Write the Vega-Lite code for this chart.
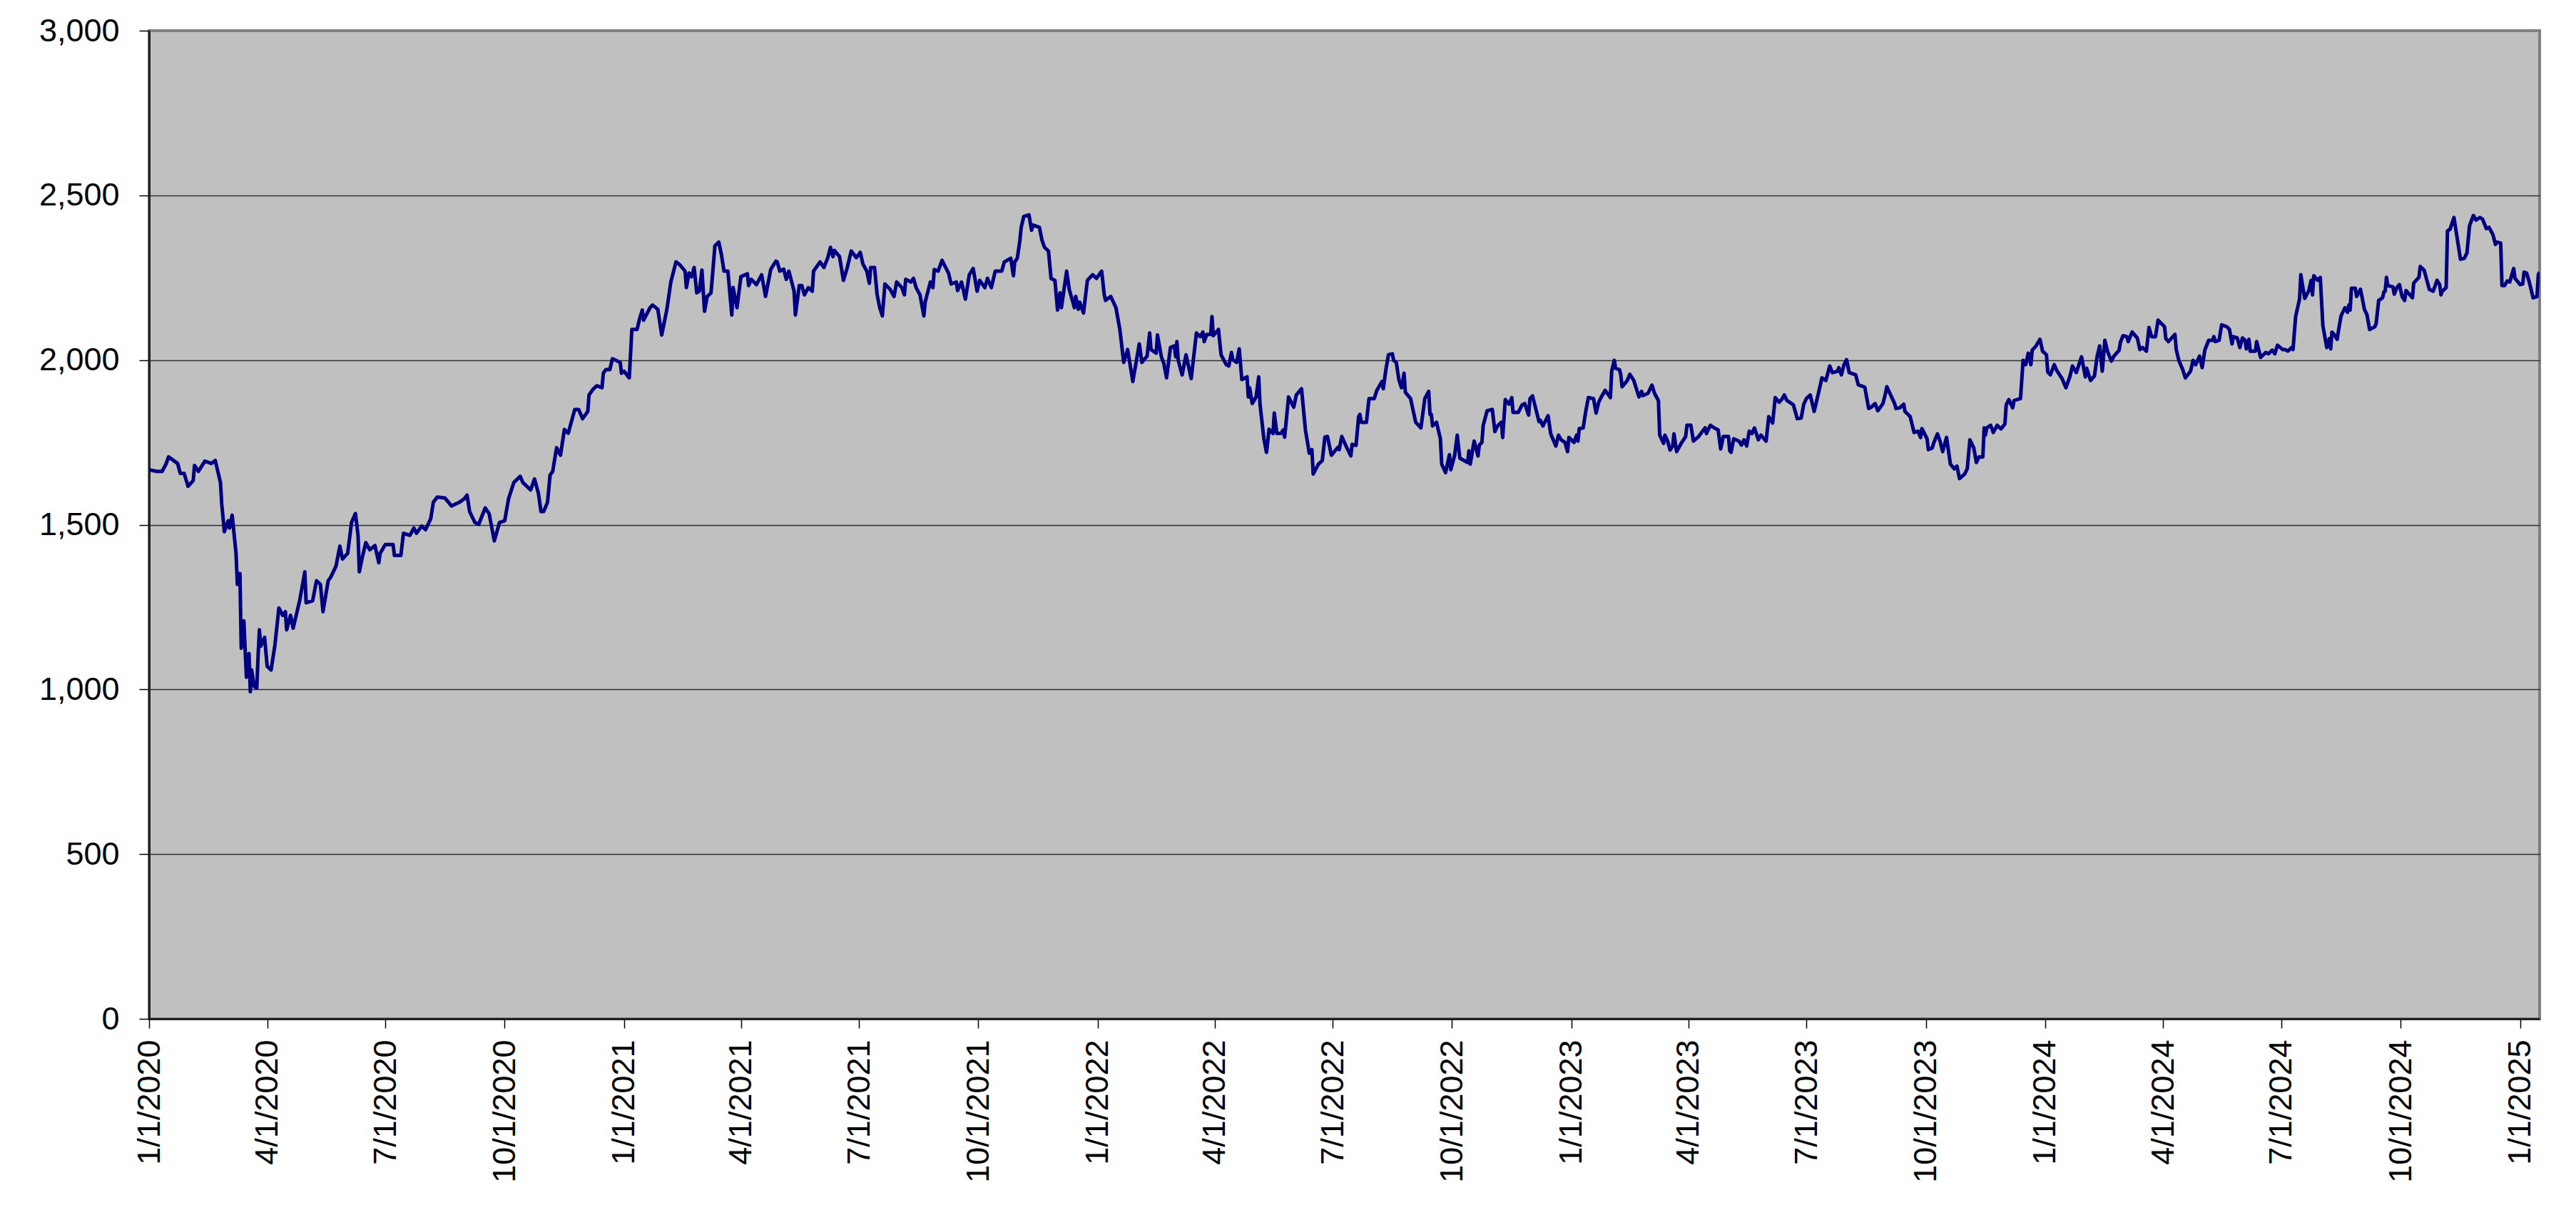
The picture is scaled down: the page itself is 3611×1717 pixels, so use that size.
{
  "$schema": "https://vega.github.io/schema/vega-lite/v6.json",
  "width": 3351,
  "height": 1385,
  "autosize": {"type": "none"},
  "padding": {"left": 209, "top": 43, "right": 51, "bottom": 289},
  "background": "white",
  "config": {
    "view": {"fill": "#C0C0C0", "stroke": "#808080", "strokeWidth": 4},
    "font": "Liberation Sans"
  },
  "data": {
    "values": [
      {"d":"2020-01-01","v":1667},{"d":"2020-01-07","v":1662},{"d":"2020-01-11","v":1662},{"d":"2020-01-14","v":1684},{"d":"2020-01-16","v":1706},{"d":"2020-01-23","v":1686},{"d":"2020-01-25","v":1656},{"d":"2020-01-28","v":1656},{"d":"2020-01-31","v":1617},{"d":"2020-02-04","v":1634},{"d":"2020-02-05","v":1680},{"d":"2020-02-08","v":1662},{"d":"2020-02-13","v":1693},{"d":"2020-02-18","v":1686},{"d":"2020-02-21","v":1695},{"d":"2020-02-25","v":1628},{"d":"2020-02-26","v":1562},{"d":"2020-02-28","v":1479},{"d":"2020-03-02","v":1512},{"d":"2020-03-03","v":1490},{"d":"2020-03-05","v":1529},{"d":"2020-03-08","v":1413},{"d":"2020-03-09","v":1319},{"d":"2020-03-11","v":1352},{"d":"2020-03-12","v":1125},{"d":"2020-03-14","v":1208},{"d":"2020-03-16","v":1037},{"d":"2020-03-18","v":1109},{"d":"2020-03-19","v":993},{"d":"2020-03-20","v":1059},{"d":"2020-03-22","v":1009},{"d":"2020-03-24","v":1004},{"d":"2020-03-25","v":1103},{"d":"2020-03-26","v":1181},{"d":"2020-03-27","v":1131},{"d":"2020-03-30","v":1158},{"d":"2020-04-01","v":1070},{"d":"2020-04-04","v":1059},{"d":"2020-04-07","v":1136},{"d":"2020-04-10","v":1247},{"d":"2020-04-13","v":1225},{"d":"2020-04-15","v":1236},{"d":"2020-04-16","v":1181},{"d":"2020-04-19","v":1225},{"d":"2020-04-21","v":1186},{"d":"2020-04-26","v":1269},{"d":"2020-04-30","v":1357},{"d":"2020-05-01","v":1263},{"d":"2020-05-06","v":1269},{"d":"2020-05-09","v":1330},{"d":"2020-05-12","v":1319},{"d":"2020-05-14","v":1236},{"d":"2020-05-18","v":1330},{"d":"2020-05-20","v":1341},{"d":"2020-05-24","v":1374},{"d":"2020-05-27","v":1435},{"d":"2020-05-29","v":1396},{"d":"2020-06-02","v":1413},{"d":"2020-06-05","v":1507},{"d":"2020-06-08","v":1534},{"d":"2020-06-10","v":1468},{"d":"2020-06-11","v":1357},{"d":"2020-06-13","v":1396},{"d":"2020-06-16","v":1446},{"d":"2020-06-19","v":1424},{"d":"2020-06-23","v":1437},{"d":"2020-06-26","v":1385},{"d":"2020-06-27","v":1413},{"d":"2020-07-01","v":1440},{"d":"2020-07-07","v":1440},{"d":"2020-07-08","v":1407},{"d":"2020-07-13","v":1407},{"d":"2020-07-15","v":1474},{"d":"2020-07-20","v":1468},{"d":"2020-07-23","v":1490},{"d":"2020-07-25","v":1474},{"d":"2020-07-29","v":1496},{"d":"2020-08-01","v":1485},{"d":"2020-08-05","v":1518},{"d":"2020-08-07","v":1568},{"d":"2020-08-10","v":1584},{"d":"2020-08-16","v":1581},{"d":"2020-08-21","v":1557},{"d":"2020-08-27","v":1568},{"d":"2020-08-31","v":1579},{"d":"2020-09-02","v":1590},{"d":"2020-09-04","v":1540},{"d":"2020-09-08","v":1507},{"d":"2020-09-11","v":1501},{"d":"2020-09-16","v":1551},{"d":"2020-09-19","v":1534},{"d":"2020-09-23","v":1451},
      {"d":"2020-09-27","v":1507},{"d":"2020-10-01","v":1512},{"d":"2020-10-04","v":1579},{"d":"2020-10-08","v":1628},{"d":"2020-10-13","v":1647},{"d":"2020-10-15","v":1628},{"d":"2020-10-21","v":1606},{"d":"2020-10-24","v":1639},{"d":"2020-10-27","v":1595},{"d":"2020-10-29","v":1540},{"d":"2020-10-31","v":1540},{"d":"2020-11-03","v":1568},{"d":"2020-11-05","v":1651},{"d":"2020-11-07","v":1662},{"d":"2020-11-10","v":1734},{"d":"2020-11-13","v":1711},{"d":"2020-11-16","v":1789},{"d":"2020-11-19","v":1778},{"d":"2020-11-24","v":1850},{"d":"2020-11-27","v":1850},{"d":"2020-11-30","v":1822},{"d":"2020-12-04","v":1844},{"d":"2020-12-05","v":1894},{"d":"2020-12-08","v":1911},{"d":"2020-12-11","v":1922},{"d":"2020-12-15","v":1916},{"d":"2020-12-16","v":1960},{"d":"2020-12-18","v":1971},{"d":"2020-12-21","v":1971},{"d":"2020-12-23","v":2004},{"d":"2020-12-29","v":1993},{"d":"2020-12-30","v":1960},{"d":"2021-01-01","v":1966},{"d":"2021-01-05","v":1946},{"d":"2021-01-07","v":2093},{"d":"2021-01-11","v":2093},{"d":"2021-01-13","v":2126},{"d":"2021-01-15","v":2152},{"d":"2021-01-16","v":2121},{"d":"2021-01-21","v":2159},{"d":"2021-01-23","v":2167},{"d":"2021-01-27","v":2154},{"d":"2021-01-30","v":2076},{"d":"2021-02-03","v":2154},{"d":"2021-02-06","v":2237},{"d":"2021-02-10","v":2298},{"d":"2021-02-13","v":2289},{"d":"2021-02-17","v":2270},{"d":"2021-02-18","v":2220},{"d":"2021-02-20","v":2264},{"d":"2021-02-22","v":2253},{"d":"2021-02-24","v":2281},{"d":"2021-02-26","v":2204},{"d":"2021-02-28","v":2209},{"d":"2021-03-02","v":2273},{"d":"2021-03-04","v":2148},{"d":"2021-03-06","v":2193},{"d":"2021-03-09","v":2204},{"d":"2021-03-12","v":2347},{"d":"2021-03-15","v":2358},{"d":"2021-03-17","v":2320},{"d":"2021-03-19","v":2270},{"d":"2021-03-22","v":2270},{"d":"2021-03-25","v":2137},{"d":"2021-03-26","v":2220},{"d":"2021-03-29","v":2159},{"d":"2021-04-01","v":2253},{"d":"2021-04-06","v":2262},{"d":"2021-04-07","v":2226},{"d":"2021-04-09","v":2245},{"d":"2021-04-13","v":2229},{"d":"2021-04-17","v":2259},{"d":"2021-04-20","v":2193},{"d":"2021-04-24","v":2275},{"d":"2021-04-28","v":2300},{"d":"2021-04-29","v":2298},{"d":"2021-05-01","v":2270},{"d":"2021-05-04","v":2276},{"d":"2021-05-06","v":2245},{"d":"2021-05-08","v":2270},{"d":"2021-05-12","v":2209},{"d":"2021-05-13","v":2137},{"d":"2021-05-16","v":2226},{"d":"2021-05-18","v":2226},{"d":"2021-05-20","v":2198},{"d":"2021-05-23","v":2220},{"d":"2021-05-26","v":2209},{"d":"2021-05-27","v":2270},{"d":"2021-06-01","v":2298},{"d":"2021-06-04","v":2281},{"d":"2021-06-07","v":2311},{"d":"2021-06-09","v":2342},{"d":"2021-06-11","v":2314},
      {"d":"2021-06-12","v":2333},{"d":"2021-06-16","v":2314},{"d":"2021-06-19","v":2242},{"d":"2021-06-22","v":2281},{"d":"2021-06-25","v":2331},{"d":"2021-06-29","v":2311},{"d":"2021-07-02","v":2327},{"d":"2021-07-04","v":2292},{"d":"2021-07-07","v":2270},{"d":"2021-07-09","v":2233},{"d":"2021-07-10","v":2281},{"d":"2021-07-13","v":2281},{"d":"2021-07-15","v":2198},{"d":"2021-07-17","v":2159},{"d":"2021-07-19","v":2134},{"d":"2021-07-21","v":2231},{"d":"2021-07-25","v":2215},{"d":"2021-07-28","v":2193},{"d":"2021-07-30","v":2237},{"d":"2021-08-03","v":2220},{"d":"2021-08-05","v":2198},{"d":"2021-08-06","v":2245},{"d":"2021-08-10","v":2237},{"d":"2021-08-12","v":2248},{"d":"2021-08-14","v":2220},{"d":"2021-08-17","v":2198},{"d":"2021-08-20","v":2134},{"d":"2021-08-21","v":2176},{"d":"2021-08-25","v":2237},{"d":"2021-08-27","v":2220},{"d":"2021-08-28","v":2275},{"d":"2021-08-31","v":2270},{"d":"2021-09-03","v":2303},{"d":"2021-09-05","v":2287},{"d":"2021-09-08","v":2264},{"d":"2021-09-10","v":2231},{"d":"2021-09-14","v":2237},{"d":"2021-09-15","v":2211},{"d":"2021-09-18","v":2237},{"d":"2021-09-21","v":2185},{"d":"2021-09-24","v":2259},{"d":"2021-09-27","v":2278},{"d":"2021-09-30","v":2209},{"d":"2021-10-02","v":2242},{"d":"2021-10-06","v":2220},{"d":"2021-10-08","v":2248},{"d":"2021-10-11","v":2220},{"d":"2021-10-14","v":2270},{"d":"2021-10-19","v":2270},{"d":"2021-10-21","v":2298},{"d":"2021-10-26","v":2309},{"d":"2021-10-28","v":2256},{"d":"2021-10-29","v":2298},{"d":"2021-10-31","v":2309},{"d":"2021-11-02","v":2364},{"d":"2021-11-03","v":2403},{"d":"2021-11-05","v":2436},{"d":"2021-11-09","v":2441},{"d":"2021-11-11","v":2394},{"d":"2021-11-12","v":2410},{"d":"2021-11-17","v":2403},{"d":"2021-11-19","v":2364},{"d":"2021-11-21","v":2342},{"d":"2021-11-24","v":2331},{"d":"2021-11-26","v":2248},{"d":"2021-11-29","v":2242},{"d":"2021-12-01","v":2152},{"d":"2021-12-03","v":2204},{"d":"2021-12-04","v":2159},{"d":"2021-12-08","v":2270},{"d":"2021-12-10","v":2215},{"d":"2021-12-14","v":2159},{"d":"2021-12-15","v":2193},{"d":"2021-12-17","v":2154},{"d":"2021-12-18","v":2176},{"d":"2021-12-21","v":2143},{"d":"2021-12-24","v":2242},{"d":"2021-12-28","v":2259},{"d":"2021-12-31","v":2248},{"d":"2022-01-04","v":2270},{"d":"2022-01-06","v":2198},{"d":"2022-01-07","v":2181},{"d":"2022-01-11","v":2193},{"d":"2022-01-15","v":2159},{"d":"2022-01-18","v":2093},{"d":"2022-01-21","v":1993},{"d":"2022-01-24","v":2032},{"d":"2022-01-28","v":1935},{"d":"2022-02-02","v":2049},{"d":"2022-02-04","v":1993},{"d":"2022-02-08","v":2012},{"d":"2022-02-10","v":2082},{"d":"2022-02-11","v":2032},{"d":"2022-02-15","v":2021},{"d":"2022-02-16","v":2076},{"d":"2022-02-19","v":2010},{"d":"2022-02-21","v":1988},{"d":"2022-02-23","v":1946},{"d":"2022-02-26","v":2038},{"d":"2022-03-01","v":2043},{"d":"2022-03-02","v":2010},{"d":"2022-03-03","v":2056},
      {"d":"2022-03-04","v":1999},{"d":"2022-03-07","v":1955},{"d":"2022-03-10","v":2016},{"d":"2022-03-14","v":1944},{"d":"2022-03-18","v":2082},{"d":"2022-03-21","v":2071},{"d":"2022-03-23","v":2085},{"d":"2022-03-24","v":2056},{"d":"2022-03-26","v":2078},{"d":"2022-03-29","v":2078},{"d":"2022-03-30","v":2132},{"d":"2022-03-31","v":2074},{"d":"2022-04-04","v":2093},{"d":"2022-04-06","v":2016},{"d":"2022-04-10","v":1986},{"d":"2022-04-12","v":1982},{"d":"2022-04-14","v":2023},{"d":"2022-04-15","v":2001},{"d":"2022-04-18","v":1993},{"d":"2022-04-20","v":2034},{"d":"2022-04-22","v":1941},{"d":"2022-04-26","v":1949},{"d":"2022-04-27","v":1888},{"d":"2022-04-28","v":1916},{"d":"2022-04-30","v":1868},{"d":"2022-05-03","v":1888},{"d":"2022-05-05","v":1949},{"d":"2022-05-06","v":1866},{"d":"2022-05-09","v":1761},{"d":"2022-05-11","v":1720},{"d":"2022-05-13","v":1790},{"d":"2022-05-16","v":1777},{"d":"2022-05-17","v":1839},{"d":"2022-05-19","v":1777},{"d":"2022-05-22","v":1777},{"d":"2022-05-24","v":1788},{"d":"2022-05-25","v":1766},{"d":"2022-05-28","v":1888},{"d":"2022-06-01","v":1857},{"d":"2022-06-03","v":1894},{"d":"2022-06-07","v":1913},{"d":"2022-06-10","v":1788},{"d":"2022-06-13","v":1717},{"d":"2022-06-15","v":1728},{"d":"2022-06-16","v":1654},{"d":"2022-06-20","v":1684},{"d":"2022-06-23","v":1695},{"d":"2022-06-25","v":1766},{"d":"2022-06-27","v":1768},{"d":"2022-06-30","v":1711},{"d":"2022-07-05","v":1735},{"d":"2022-07-06","v":1728},{"d":"2022-07-08","v":1768},{"d":"2022-07-12","v":1733},{"d":"2022-07-15","v":1709},{"d":"2022-07-16","v":1744},{"d":"2022-07-19","v":1741},{"d":"2022-07-21","v":1828},{"d":"2022-07-22","v":1835},{"d":"2022-07-23","v":1811},{"d":"2022-07-27","v":1811},{"d":"2022-07-29","v":1883},{"d":"2022-08-02","v":1883},{"d":"2022-08-04","v":1908},{"d":"2022-08-08","v":1935},{"d":"2022-08-09","v":1913},{"d":"2022-08-11","v":1971},{"d":"2022-08-13","v":2016},{"d":"2022-08-16","v":2019},{"d":"2022-08-17","v":1999},{"d":"2022-08-19","v":1993},{"d":"2022-08-21","v":1941},{"d":"2022-08-23","v":1916},{"d":"2022-08-25","v":1960},{"d":"2022-08-26","v":1902},{"d":"2022-08-30","v":1883},{"d":"2022-09-03","v":1811},{"d":"2022-09-07","v":1794},{"d":"2022-09-10","v":1883},{"d":"2022-09-13","v":1905},{"d":"2022-09-14","v":1835},{"d":"2022-09-15","v":1835},{"d":"2022-09-16","v":1800},{"d":"2022-09-19","v":1811},{"d":"2022-09-22","v":1761},{"d":"2022-09-23","v":1684},{"d":"2022-09-26","v":1658},{"d":"2022-09-29","v":1713},{"d":"2022-09-30","v":1667},{"d":"2022-10-03","v":1711},{"d":"2022-10-05","v":1772},{"d":"2022-10-07","v":1702},{"d":"2022-10-13","v":1689},{"d":"2022-10-14","v":1724},{"d":"2022-10-15","v":1684},{"d":"2022-10-18","v":1754},{"d":"2022-10-21","v":1709},{"d":"2022-10-22","v":1742},{"d":"2022-10-24","v":1750},{"d":"2022-10-25","v":1802},{"d":"2022-10-28","v":1846},{"d":"2022-11-01","v":1850},{"d":"2022-11-03","v":1783},{"d":"2022-11-05","v":1800},{"d":"2022-11-08","v":1811},{"d":"2022-11-09","v":1765},{"d":"2022-11-11","v":1880},{"d":"2022-11-14","v":1866},{"d":"2022-11-16","v":1886},{"d":"2022-11-17","v":1841},{"d":"2022-11-21","v":1841},
      {"d":"2022-11-24","v":1864},{"d":"2022-11-26","v":1868},{"d":"2022-11-29","v":1833},{"d":"2022-11-30","v":1883},{"d":"2022-12-02","v":1891},{"d":"2022-12-07","v":1813},{"d":"2022-12-08","v":1817},{"d":"2022-12-10","v":1800},{"d":"2022-12-14","v":1831},{"d":"2022-12-16","v":1776},{"d":"2022-12-20","v":1739},{"d":"2022-12-22","v":1772},{"d":"2022-12-24","v":1758},{"d":"2022-12-27","v":1750},{"d":"2022-12-29","v":1722},{"d":"2022-12-30","v":1765},{"d":"2023-01-03","v":1750},{"d":"2023-01-05","v":1772},{"d":"2023-01-06","v":1754},{"d":"2023-01-07","v":1792},{"d":"2023-01-10","v":1794},{"d":"2023-01-12","v":1844},{"d":"2023-01-14","v":1886},{"d":"2023-01-18","v":1883},{"d":"2023-01-20","v":1839},{"d":"2023-01-22","v":1872},{"d":"2023-01-24","v":1888},{"d":"2023-01-27","v":1908},{"d":"2023-01-31","v":1886},{"d":"2023-02-01","v":1966},{"d":"2023-02-03","v":1999},{"d":"2023-02-04","v":1975},{"d":"2023-02-07","v":1971},{"d":"2023-02-08","v":1955},{"d":"2023-02-09","v":1919},{"d":"2023-02-13","v":1938},{"d":"2023-02-15","v":1957},{"d":"2023-02-18","v":1938},{"d":"2023-02-22","v":1888},{"d":"2023-02-24","v":1905},{"d":"2023-02-25","v":1892},{"d":"2023-03-01","v":1899},{"d":"2023-03-04","v":1924},{"d":"2023-03-06","v":1899},{"d":"2023-03-09","v":1877},{"d":"2023-03-10","v":1772},{"d":"2023-03-13","v":1747},{"d":"2023-03-14","v":1772},{"d":"2023-03-16","v":1755},{"d":"2023-03-18","v":1727},{"d":"2023-03-20","v":1739},{"d":"2023-03-21","v":1776},{"d":"2023-03-23","v":1722},{"d":"2023-03-27","v":1750},{"d":"2023-03-30","v":1768},{"d":"2023-03-31","v":1802},{"d":"2023-04-03","v":1802},{"d":"2023-04-05","v":1754},{"d":"2023-04-09","v":1768},{"d":"2023-04-12","v":1784},{"d":"2023-04-14","v":1794},{"d":"2023-04-15","v":1777},{"d":"2023-04-18","v":1802},{"d":"2023-04-21","v":1794},{"d":"2023-04-24","v":1788},{"d":"2023-04-26","v":1730},{"d":"2023-04-28","v":1768},{"d":"2023-05-02","v":1768},{"d":"2023-05-03","v":1724},{"d":"2023-05-04","v":1720},{"d":"2023-05-06","v":1761},{"d":"2023-05-10","v":1754},{"d":"2023-05-12","v":1742},{"d":"2023-05-14","v":1758},{"d":"2023-05-16","v":1739},{"d":"2023-05-18","v":1784},{"d":"2023-05-20","v":1777},{"d":"2023-05-22","v":1794},{"d":"2023-05-25","v":1758},{"d":"2023-05-27","v":1772},{"d":"2023-05-31","v":1754},{"d":"2023-06-02","v":1828},{"d":"2023-06-05","v":1809},{"d":"2023-06-07","v":1886},{"d":"2023-06-10","v":1872},{"d":"2023-06-12","v":1880},{"d":"2023-06-14","v":1894},{"d":"2023-06-16","v":1877},{"d":"2023-06-17","v":1875},{"d":"2023-06-21","v":1864},{"d":"2023-06-24","v":1822},{"d":"2023-06-27","v":1824},{"d":"2023-06-29","v":1866},{"d":"2023-07-01","v":1883},{"d":"2023-07-04","v":1894},{"d":"2023-07-07","v":1844},{"d":"2023-07-10","v":1894},{"d":"2023-07-13","v":1946},{"d":"2023-07-16","v":1938},{"d":"2023-07-19","v":1982},{"d":"2023-07-21","v":1962},{"d":"2023-07-25","v":1966},{"d":"2023-07-26","v":1977},{"d":"2023-07-28","v":1955},{"d":"2023-07-30","v":1986},{"d":"2023-08-01","v":2001},{"d":"2023-08-03","v":1962},{"d":"2023-08-08","v":1955},{"d":"2023-08-10","v":1925},
      {"d":"2023-08-15","v":1918},{"d":"2023-08-18","v":1853},{"d":"2023-08-20","v":1857},{"d":"2023-08-23","v":1868},{"d":"2023-08-25","v":1846},{"d":"2023-08-29","v":1868},{"d":"2023-08-31","v":1899},{"d":"2023-09-01","v":1919},{"d":"2023-09-07","v":1868},{"d":"2023-09-08","v":1853},{"d":"2023-09-11","v":1855},{"d":"2023-09-14","v":1866},{"d":"2023-09-15","v":1844},{"d":"2023-09-19","v":1828},{"d":"2023-09-22","v":1780},{"d":"2023-09-25","v":1784},{"d":"2023-09-27","v":1765},{"d":"2023-09-28","v":1792},{"d":"2023-10-02","v":1761},{"d":"2023-10-03","v":1728},{"d":"2023-10-06","v":1733},{"d":"2023-10-07","v":1747},{"d":"2023-10-10","v":1776},{"d":"2023-10-12","v":1754},{"d":"2023-10-14","v":1722},{"d":"2023-10-17","v":1765},{"d":"2023-10-20","v":1684},{"d":"2023-10-23","v":1670},{"d":"2023-10-25","v":1678},{"d":"2023-10-27","v":1640},{"d":"2023-10-31","v":1654},{"d":"2023-11-02","v":1670},{"d":"2023-11-04","v":1758},{"d":"2023-11-07","v":1733},{"d":"2023-11-09","v":1689},{"d":"2023-11-11","v":1706},{"d":"2023-11-14","v":1706},{"d":"2023-11-15","v":1794},{"d":"2023-11-16","v":1772},{"d":"2023-11-17","v":1794},{"d":"2023-11-20","v":1802},{"d":"2023-11-22","v":1780},{"d":"2023-11-25","v":1802},{"d":"2023-11-28","v":1791},{"d":"2023-12-01","v":1806},{"d":"2023-12-02","v":1864},{"d":"2023-12-04","v":1880},{"d":"2023-12-07","v":1855},{"d":"2023-12-08","v":1877},{"d":"2023-12-13","v":1883},{"d":"2023-12-15","v":1999},{"d":"2023-12-17","v":1986},{"d":"2023-12-19","v":2021},{"d":"2023-12-21","v":1986},{"d":"2023-12-22","v":2030},{"d":"2023-12-25","v":2043},{"d":"2023-12-28","v":2063},{"d":"2023-12-30","v":2027},{"d":"2024-01-02","v":2016},{"d":"2024-01-03","v":1964},{"d":"2024-01-05","v":1955},{"d":"2024-01-08","v":1986},{"d":"2024-01-10","v":1968},{"d":"2024-01-14","v":1944},{"d":"2024-01-17","v":1916},{"d":"2024-01-20","v":1949},{"d":"2024-01-22","v":1982},{"d":"2024-01-25","v":1962},{"d":"2024-01-29","v":2010},{"d":"2024-02-01","v":1949},{"d":"2024-02-02","v":1975},{"d":"2024-02-05","v":1938},{"d":"2024-02-08","v":1952},{"d":"2024-02-10","v":2010},{"d":"2024-02-12","v":2043},{"d":"2024-02-14","v":1966},{"d":"2024-02-16","v":2060},{"d":"2024-02-18","v":2027},{"d":"2024-02-21","v":1997},{"d":"2024-02-23","v":2012},{"d":"2024-02-27","v":2030},{"d":"2024-02-28","v":2054},{"d":"2024-03-01","v":2074},{"d":"2024-03-04","v":2071},{"d":"2024-03-05","v":2056},{"d":"2024-03-08","v":2085},{"d":"2024-03-12","v":2067},{"d":"2024-03-14","v":2032},{"d":"2024-03-16","v":2038},{"d":"2024-03-19","v":2027},{"d":"2024-03-21","v":2099},{"d":"2024-03-23","v":2071},{"d":"2024-03-26","v":2071},{"d":"2024-03-28","v":2121},{"d":"2024-04-02","v":2101},{"d":"2024-04-03","v":2065},{"d":"2024-04-05","v":2056},{"d":"2024-04-10","v":2078},{"d":"2024-04-11","v":2032},{"d":"2024-04-13","v":1999},{"d":"2024-04-16","v":1971},{"d":"2024-04-18","v":1946},{"d":"2024-04-22","v":1966},{"d":"2024-04-24","v":1999},{"d":"2024-04-26","v":1986},{"d":"2024-04-29","v":2012},{"d":"2024-05-01","v":1977},{"d":"2024-05-03","v":2030},
      {"d":"2024-05-06","v":2060},{"d":"2024-05-09","v":2060},{"d":"2024-05-10","v":2071},{"d":"2024-05-11","v":2056},{"d":"2024-05-14","v":2060},{"d":"2024-05-16","v":2107},{"d":"2024-05-20","v":2101},{"d":"2024-05-22","v":2093},{"d":"2024-05-24","v":2049},{"d":"2024-05-25","v":2071},{"d":"2024-05-28","v":2067},{"d":"2024-05-30","v":2038},{"d":"2024-06-01","v":2067},{"d":"2024-06-03","v":2060},{"d":"2024-06-04","v":2034},{"d":"2024-06-06","v":2063},{"d":"2024-06-07","v":2027},{"d":"2024-06-11","v":2027},{"d":"2024-06-12","v":2056},{"d":"2024-06-15","v":2008},{"d":"2024-06-19","v":2023},{"d":"2024-06-21","v":2019},{"d":"2024-06-24","v":2030},{"d":"2024-06-26","v":2019},{"d":"2024-06-28","v":2045},{"d":"2024-07-02","v":2032},{"d":"2024-07-04","v":2032},{"d":"2024-07-06","v":2027},{"d":"2024-07-09","v":2038},{"d":"2024-07-10","v":2032},{"d":"2024-07-12","v":2132},{"d":"2024-07-15","v":2185},{"d":"2024-07-16","v":2259},{"d":"2024-07-19","v":2187},{"d":"2024-07-22","v":2209},{"d":"2024-07-24","v":2242},{"d":"2024-07-25","v":2198},{"d":"2024-07-26","v":2256},{"d":"2024-07-29","v":2242},{"d":"2024-07-31","v":2251},{"d":"2024-08-02","v":2104},{"d":"2024-08-05","v":2038},{"d":"2024-08-07","v":2065},{"d":"2024-08-08","v":2034},{"d":"2024-08-09","v":2085},{"d":"2024-08-11","v":2076},{"d":"2024-08-13","v":2063},{"d":"2024-08-14","v":2089},{"d":"2024-08-16","v":2134},{"d":"2024-08-19","v":2159},{"d":"2024-08-21","v":2145},{"d":"2024-08-22","v":2167},{"d":"2024-08-23","v":2152},{"d":"2024-08-24","v":2218},{"d":"2024-08-27","v":2218},{"d":"2024-08-28","v":2193},{"d":"2024-08-31","v":2215},{"d":"2024-09-03","v":2154},{"d":"2024-09-05","v":2137},{"d":"2024-09-07","v":2093},{"d":"2024-09-11","v":2101},{"d":"2024-09-12","v":2110},{"d":"2024-09-14","v":2181},{"d":"2024-09-17","v":2189},{"d":"2024-09-18","v":2207},{"d":"2024-09-19","v":2209},{"d":"2024-09-20","v":2251},{"d":"2024-09-21","v":2226},{"d":"2024-09-25","v":2222},{"d":"2024-09-26","v":2200},{"d":"2024-09-28","v":2220},{"d":"2024-09-30","v":2229},{"d":"2024-10-02","v":2193},{"d":"2024-10-04","v":2181},{"d":"2024-10-05","v":2211},{"d":"2024-10-08","v":2198},{"d":"2024-10-10","v":2189},{"d":"2024-10-11","v":2234},{"d":"2024-10-15","v":2251},{"d":"2024-10-16","v":2284},{"d":"2024-10-19","v":2273},{"d":"2024-10-23","v":2215},{"d":"2024-10-26","v":2209},{"d":"2024-10-29","v":2242},{"d":"2024-10-31","v":2229},{"d":"2024-11-01","v":2198},{"d":"2024-11-02","v":2209},{"d":"2024-11-05","v":2220},{"d":"2024-11-06","v":2392},{"d":"2024-11-08","v":2397},{"d":"2024-11-11","v":2433},{"d":"2024-11-16","v":2306},{"d":"2024-11-19","v":2309},{"d":"2024-11-21","v":2325},{"d":"2024-11-23","v":2408},{"d":"2024-11-26","v":2439},{"d":"2024-11-28","v":2425},{"d":"2024-12-01","v":2433},{"d":"2024-12-03","v":2428},{"d":"2024-12-06","v":2399},{"d":"2024-12-08","v":2403},{"d":"2024-12-11","v":2381},{"d":"2024-12-13","v":2351},{"d":"2024-12-14","v":2358},{"d":"2024-12-17","v":2355},{"d":"2024-12-18","v":2226},{"d":"2024-12-20","v":2226},{"d":"2024-12-22","v":2240},{"d":"2024-12-24","v":2237},{"d":"2024-12-27","v":2278},{"d":"2024-12-28","v":2248},{"d":"2025-01-01","v":2229},{"d":"2025-01-03","v":2231},{"d":"2025-01-04","v":2267},{"d":"2025-01-06","v":2264},{"d":"2025-01-08","v":2237},{"d":"2025-01-11","v":2189},{"d":"2025-01-14","v":2193},{"d":"2025-01-15","v":2259},{"d":"2025-01-16","v":2267}
    ]
  },
  "mark": {"type": "line", "color": "#000080", "strokeWidth": 5, "strokeJoin": "round", "clip": true},
  "encoding": {
    "x": {
      "field": "d",
      "type": "temporal",
      "scale": {
        "type": "utc",
        "domain": [
          {"year": 2020, "month": 1, "date": 1, "utc": true},
          {"year": 2025, "month": 1, "date": 16, "utc": true}
        ]
      },
      "axis": {
        "title": null,
        "values": [
          {"year": 2020, "month": 1, "date": 1, "utc": true},
          {"year": 2020, "month": 4, "date": 1, "utc": true},
          {"year": 2020, "month": 7, "date": 1, "utc": true},
          {"year": 2020, "month": 10, "date": 1, "utc": true},
          {"year": 2021, "month": 1, "date": 1, "utc": true},
          {"year": 2021, "month": 4, "date": 1, "utc": true},
          {"year": 2021, "month": 7, "date": 1, "utc": true},
          {"year": 2021, "month": 10, "date": 1, "utc": true},
          {"year": 2022, "month": 1, "date": 1, "utc": true},
          {"year": 2022, "month": 4, "date": 1, "utc": true},
          {"year": 2022, "month": 7, "date": 1, "utc": true},
          {"year": 2022, "month": 10, "date": 1, "utc": true},
          {"year": 2023, "month": 1, "date": 1, "utc": true},
          {"year": 2023, "month": 4, "date": 1, "utc": true},
          {"year": 2023, "month": 7, "date": 1, "utc": true},
          {"year": 2023, "month": 10, "date": 1, "utc": true},
          {"year": 2024, "month": 1, "date": 1, "utc": true},
          {"year": 2024, "month": 4, "date": 1, "utc": true},
          {"year": 2024, "month": 7, "date": 1, "utc": true},
          {"year": 2024, "month": 10, "date": 1, "utc": true},
          {"year": 2025, "month": 1, "date": 1, "utc": true}
        ],
        "labelExpr": "utcFormat(datum.value, '%-m/%-d/%Y')",
        "labelAngle": -90,
        "labelFont": "Liberation Sans",
        "labelFontSize": 45,
        "labelColor": "#000000",
        "labelPadding": 16,
        "labelLimit": 0,
        "labelOverlap": false,
        "labelBound": false,
        "labelFlush": false,
        "tickSize": 13,
        "tickColor": "#000000",
        "tickWidth": 1.5,
        "domainColor": "#202020",
        "domainWidth": 3,
        "grid": false
      }
    },
    "y": {
      "field": "v",
      "type": "quantitative",
      "scale": {"domain": [0, 3000], "nice": false, "zero": true},
      "axis": {
        "title": null,
        "values": [0, 500, 1000, 1500, 2000, 2500, 3000],
        "labelExpr": "format(datum.value, ',')",
        "labelFont": "Liberation Sans",
        "labelFontSize": 45,
        "labelColor": "#000000",
        "labelPadding": 28,
        "labelLimit": 0,
        "labelFlush": false,
        "labelBound": false,
        "tickSize": 14,
        "tickColor": "#000000",
        "tickWidth": 1.5,
        "domainColor": "#202020",
        "domainWidth": 3,
        "grid": true,
        "gridColor": {"condition": {"test": "datum.value === 3000", "value": "#808080"}, "value": "#303030"},
        "gridWidth": 1.5
      }
    }
  }
}
